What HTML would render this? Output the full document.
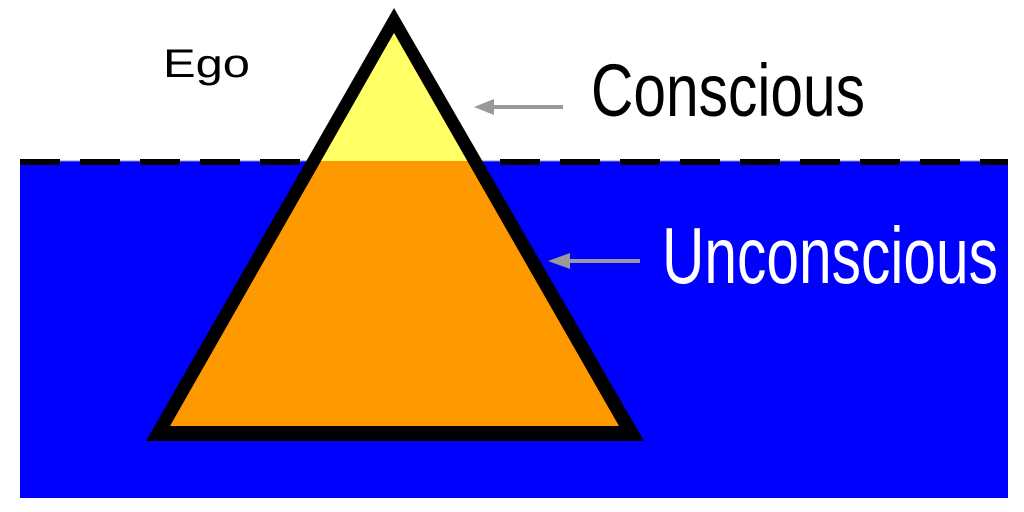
<!DOCTYPE html>
<html><head><meta charset="utf-8">
<style>html,body{margin:0;padding:0;background:#fff;width:1024px;height:512px;overflow:hidden}</style>
</head><body>
<svg width="1024" height="512" viewBox="0 0 1024 512">
  <defs>
    <clipPath id="above"><rect x="0" y="0" width="1024" height="161"/></clipPath>
  </defs>
  <rect x="20" y="161" width="988" height="337" fill="#0000ff"/>
  <line x1="20" y1="161" x2="1008" y2="161" stroke="#8888cc" stroke-width="1"/>
  <line x1="20" y1="162" x2="1008" y2="162" stroke="#000" stroke-width="6" stroke-dasharray="40 20"/>
  <polygon points="394,8 146,441 644,441" fill="#000"/>
  <polygon points="394,33 170,426 619,426" fill="#ff9900"/>
  <polygon points="394,33 170,426 619,426" fill="#ffff66" clip-path="url(#above)"/>
  <text x="163" y="77" font-family="Liberation Sans, sans-serif" font-size="40" fill="#000" textLength="87" lengthAdjust="spacingAndGlyphs">Ego</text>
  <g>
    <line x1="486" y1="107" x2="563" y2="107" stroke="#999" stroke-width="4"/>
    <polygon points="474,107 494,99 494,115" fill="#999"/>
  </g>
  <text x="591" y="116" font-family="Liberation Sans, sans-serif" font-size="74" fill="#000" textLength="274" lengthAdjust="spacingAndGlyphs">Conscious</text>
  <g>
    <line x1="560" y1="261" x2="640" y2="261" stroke="#999" stroke-width="4"/>
    <polygon points="548,261 570,253 570,269" fill="#999"/>
  </g>
  <text x="662" y="283" font-family="Liberation Sans, sans-serif" font-size="80" fill="#fff" textLength="336" lengthAdjust="spacingAndGlyphs">Unconscious</text>
</svg>
</body></html>
